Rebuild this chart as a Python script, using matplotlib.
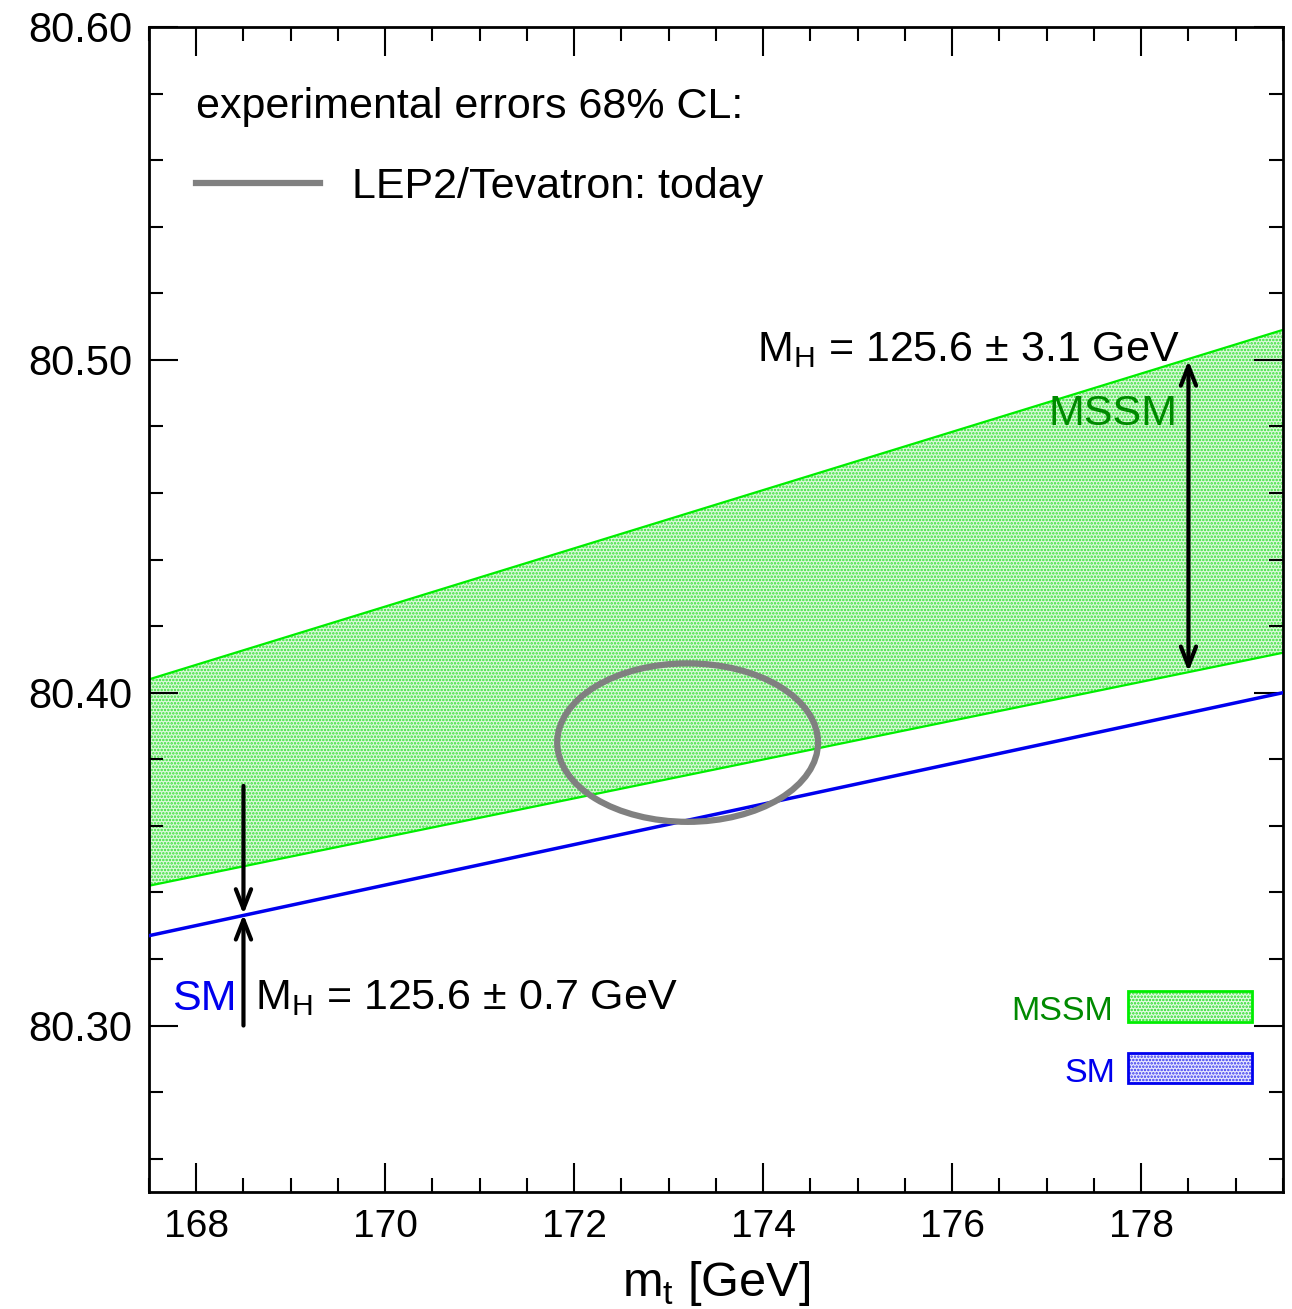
import numpy as np
import matplotlib.pyplot as plt
from matplotlib.patches import Ellipse, Rectangle
from matplotlib.ticker import MultipleLocator

plt.rcParams['font.family'] = ['Liberation Sans', 'DejaVu Sans']
plt.rcParams['hatch.linewidth'] = 1.2

# band edges at the two ends of the m_t range
mt_ends = [167.5, 179.5]
mssm_upper = [80.404, 80.509]
mssm_lower = [80.342, 80.412]
sm_line = [80.327, 80.400]

# LEP2/Tevatron 68% CL ellipse
ell_mt, ell_mw = 173.2, 80.385
ell_dmt, ell_dmw = 1.38, 0.0238

# arrows (x, y_from, y_to)
mssm_arrow = (178.5, 80.4998, 80.4063)
sm_arrow_x = 168.5
sm_arrow_top = 80.372
sm_arrow_bot = 80.300
sm_arrow_hit = 80.3334

fig = plt.figure(figsize=(12.92, 13.09), dpi=100)
ax = fig.add_axes((0.1153, 0.0894, 0.8777, 0.8900))

green_line = '#00ee00'
green_text = '#008a00'
blue = '#0000ee'

ax.fill_between(mt_ends, mssm_lower, mssm_upper, facecolor='#dcf8dc',
                edgecolor='#33e033', hatch='.....', linewidth=0, zorder=1)
ax.plot(mt_ends, mssm_upper, color=green_line, lw=1.6, zorder=2)
ax.plot(mt_ends, mssm_lower, color=green_line, lw=1.6, zorder=2)
ax.plot(mt_ends, sm_line, color=blue, lw=2.5, zorder=3)

ax.add_patch(Ellipse((ell_mt, ell_mw), 2 * ell_dmt, 2 * ell_dmw, fill=False,
                     edgecolor='#808080', lw=4.5, zorder=4))

arr = dict(arrowstyle='->,head_length=1.4,head_width=0.55', color='black', lw=3,
           shrinkA=0, shrinkB=0)
ax.annotate('', xy=(mssm_arrow[0], mssm_arrow[1]), xytext=(mssm_arrow[0], mssm_arrow[2]),
            arrowprops=dict(arr, arrowstyle='<->,head_length=1.4,head_width=0.55'), zorder=5)
ax.annotate('', xy=(sm_arrow_x, sm_arrow_hit), xytext=(sm_arrow_x, sm_arrow_top),
            arrowprops=arr, zorder=5)
ax.annotate('', xy=(sm_arrow_x, sm_arrow_hit), xytext=(sm_arrow_x, sm_arrow_bot),
            arrowprops=arr, zorder=5)

fs = 31
ax.text(178.41, 80.4997, r'M$_\mathregular{H}$ = 125.6 ± 3.1 GeV', ha='right',
        va='baseline', fontsize=fs, zorder=6)
ax.text(178.38, 80.4805, 'MSSM', color=green_text, ha='right', va='baseline',
        fontsize=fs, zorder=6)
ax.text(168.43, 80.3048, 'SM', color=blue, ha='right', va='baseline', fontsize=fs, zorder=6)
ax.text(168.62, 80.3048, r'M$_\mathregular{H}$ = 125.6 ± 0.7 GeV', ha='left',
        va='baseline', fontsize=fs, zorder=6)

ax.text(168.0, 80.5727, 'experimental errors 68% CL:', ha='left', va='baseline', fontsize=fs)
ax.plot([168.0, 169.31], [80.5532, 80.5532], color='#808080', lw=4.5)
ax.text(169.65, 80.5486, 'LEP2/Tevatron: today', ha='left', va='baseline', fontsize=fs)

# small legend boxes
ax.add_patch(Rectangle((177.86, 80.3012), 1.31, 0.0093, facecolor='#e4fae4',
                       edgecolor='#22dd22', hatch='.....', lw=0, zorder=5))
ax.add_patch(Rectangle((177.86, 80.3012), 1.31, 0.0093, fill=False,
                       edgecolor=green_line, lw=2, zorder=6))
ax.text(177.70, 80.3016, 'MSSM', color=green_text, ha='right', va='baseline', fontsize=24.5)
ax.add_patch(Rectangle((177.86, 80.2826), 1.31, 0.0093, facecolor='#e8e8ff',
                       edgecolor='#3333ee', hatch='.....', lw=0, zorder=5))
ax.add_patch(Rectangle((177.86, 80.2826), 1.31, 0.0093, fill=False,
                       edgecolor=blue, lw=2, zorder=6))
ax.text(177.73, 80.2829, 'SM', color=blue, ha='right', va='baseline', fontsize=24.5)

ax.set_xlim(167.5, 179.5)
ax.set_ylim(80.25, 80.60)
ax.xaxis.set_major_locator(MultipleLocator(2))
ax.xaxis.set_minor_locator(MultipleLocator(0.5))
ax.yaxis.set_major_locator(MultipleLocator(0.1))
ax.yaxis.set_minor_locator(MultipleLocator(0.02))
ax.yaxis.set_major_formatter(lambda v, p: f'{v:.2f}')
ax.tick_params(which='both', direction='in', top=True, right=True, width=1.5)
ax.tick_params(which='major', length=21, pad=12)
ax.tick_params(which='minor', length=10)
ax.tick_params(axis='x', labelsize=28)
ax.tick_params(axis='y', labelsize=30, pad=12)
for s in ax.spines.values():
    s.set_linewidth(2)

ax.set_xlabel(r'm$_\mathregular{t}$ [GeV]', fontsize=35, labelpad=10)

fig.savefig('out.png', dpi=100)
